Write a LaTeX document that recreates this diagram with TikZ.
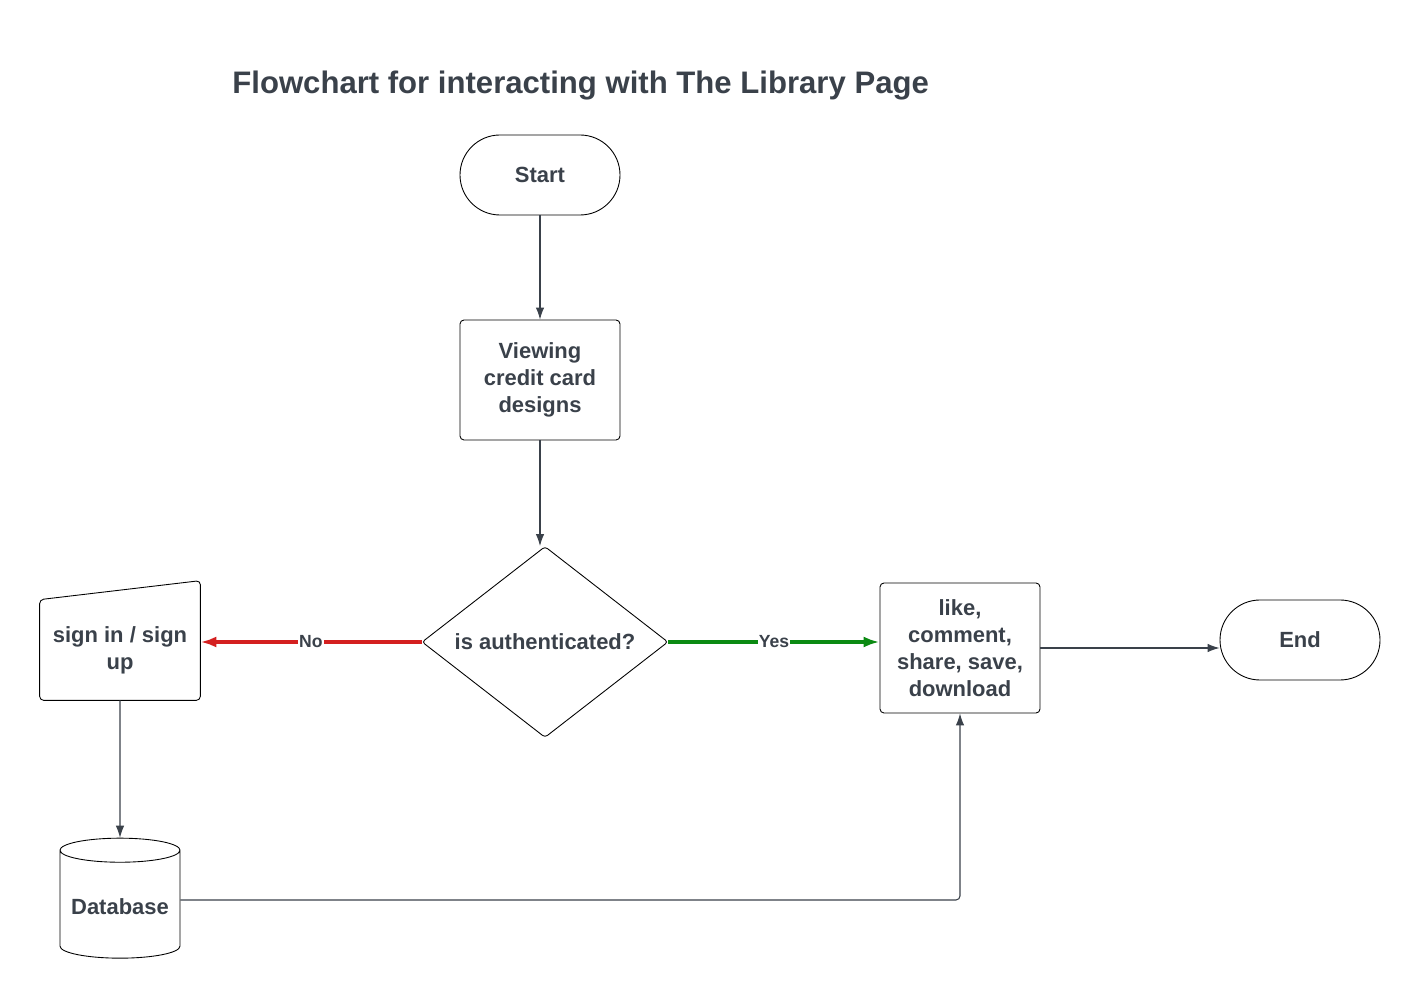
\documentclass[tikz,border=0pt]{standalone}
\usepackage{fontspec}
\setmainfont{Liberation Sans}
\usepackage{tikz}
\usetikzlibrary{shapes.geometric, arrows.meta, positioning}
\definecolor{inkgrey}{HTML}{3A414A}
\definecolor{noRed}{HTML}{D42020}
\definecolor{yesGreen}{HTML}{0B8A12}

\begin{document}
\begin{tikzpicture}[
        font=\fontsize{12.5}{15.4}\selectfont\bfseries, text=inkgrey,
        box/.style={draw, rectangle, rounded corners=0.08cm, minimum width=3.2cm, align=center, line width=0.5pt},
        terminal/.style={draw, rectangle, rounded corners=0.8cm, minimum width=3.2cm, minimum height=1.6cm, line width=0.5pt},
        decision/.style={draw, diamond, aspect=1.29, inner sep=0pt, minimum width=4.92cm, minimum height=3.82cm, rounded corners=0.06cm, line width=0.5pt},
        store/.style={draw, cylinder, shape border rotate=90, aspect=0.22, minimum width=2.4cm, minimum height=2.4cm, line width=0.5pt},
        arrow/.style={-{Latex[length=2.4mm, width=1.7mm]}, draw=inkgrey, line width=0.6pt},
        choice/.style={-{Latex[length=3.2mm, width=2.2mm]}, line width=2pt},
        tag/.style={font=\fontsize{10}{11}\selectfont\bfseries, text=inkgrey, fill=white, inner sep=0.5pt}
    ]
        \useasboundingbox (0,0) rectangle (28.4,20);
        \node[anchor=west, inner sep=0pt, font=\fontsize{17.7}{21}\selectfont\bfseries] (title) at (4.64,18.28) {Flowchart for interacting with The Library Page};

        \node[terminal] (start) at (10.8,16.5) {Start};
        \node[box, minimum height=2.4cm] (view) at (10.8,12.4) {Viewing\\credit card\\designs};
        \node[decision] (auth) at (10.9,7.16) {is authenticated?};
        \node[minimum width=3.2cm, minimum height=2cm, align=center] (signin) at (2.4,7.0) {sign in / sign\\up};
        \draw[rounded corners=0.08cm, line width=0.5pt] (signin.south west) -- (signin.north west) -- ([yshift=0.38cm]signin.north east) -- (signin.south east) -- cycle;
        \node[store] (db) at (2.4,1.86) {Database};
        \coordinate (dbout) at ([yshift=0.14cm]db.east);
        \node[box, minimum height=2.6cm] (act) at (19.2,7.04) {like,\\comment,\\share, save,\\download};
        \node[terminal] (finish) at (26.0,7.2) {End};

        \draw[arrow] (start.south) -- (view.north);
        \draw[arrow] (view.south) -- (view.south |- auth.north);
        \draw[choice, noRed] (auth.west) -- node[tag] {No} (auth.west -| signin.east);
        \draw[choice, yesGreen] (auth.east) -- node[tag] {Yes} (auth.east -| act.west);
        \draw[arrow] (act.east) -- (act.east -| finish.west);
        \draw[arrow] (signin.south) -- (db.north);
        \draw[arrow, rounded corners=0.08cm] (dbout) -- (act.south |- dbout) -- (act.south);
    \end{tikzpicture}
\end{document}
